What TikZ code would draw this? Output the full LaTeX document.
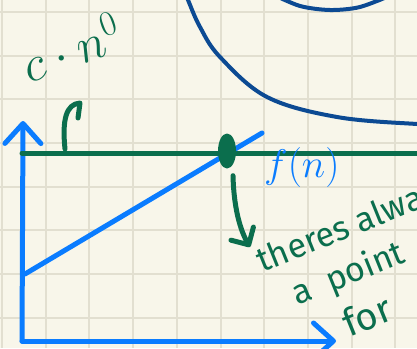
\RequirePackage{fix-cm}
\documentclass[tikz,border=0pt]{standalone}
\usepackage{fontspec}
\setmainfont{Fira Sans}
\usetikzlibrary{arrows.meta,positioning,shapes.geometric}
\definecolor{papel}{HTML}{F8F6EA}
\definecolor{grade}{HTML}{E2DFD0}
\definecolor{verdeCaneta}{HTML}{0B6E4D}
\definecolor{azulCaneta}{HTML}{0A7CFF}
\definecolor{azulEscuro}{HTML}{0C4A93}
\tikzset{
  traco/.style={line width=5pt, line cap=round, line join=round},
  eixo/.style={traco, azulCaneta, -{Straight Barb[length=20pt, width=36pt, round]}},
  seta/.style={traco, verdeCaneta, -{Straight Barb[length=13pt, width=26pt, round]}},
  linhagrade/.style={grade, line width=2pt},
  anotacao/.style={verdeCaneta, anchor=base west, rotate=22, inner sep=0pt,
                   font=\fontsize{34}{34}\selectfont},
}

\begin{document}
\begin{tikzpicture}[x=1pt, y=-1pt]
  \fill[papel] (0,0) rectangle (417,348);
  \useasboundingbox (0,0) rectangle (417,348);
  \clip (0,0) rectangle (417,348);
  % papel quadriculado
  \foreach \i in {0,...,9} \draw[linhagrade] ({2+43.7*\i},0) -- ++(0,348);
  \foreach \j in {0,...,7} \draw[linhagrade] (0,{12+43.65*\j}) -- ++(417,0);

  % circulos no topo
  \draw[azulEscuro, line width=4pt] plot[smooth, tension=0.6] coordinates
    {(184,-10) (188,0) (200,27) (220,57) (267,97) (337,117) (417,124) (440,124)};
  \draw[azulEscuro, line width=4pt] plot[smooth] coordinates
    {(272,-6) (300,6) (330,10) (360,7) (394,-6)};

  % eixos e retas
  \coordinate (origem) at (22,341);
  \coordinate (topoY) at (23,121);
  \coordinate (fimX) at (336,341);
  \draw[eixo] (origem) -- (topoY);
  \draw[eixo] (origem) -- (fimX);
  \coordinate (nivelA) at (22,153);
  \coordinate (nivelB) at (430,153);
  \draw[traco, verdeCaneta] (nivelA) -- (nivelB);
  \coordinate (retaA) at (25,274);
  \coordinate (retaB) at (262,133);
  \draw[traco, azulCaneta] (retaA) -- (retaB);

  \node[ellipse, fill=verdeCaneta, minimum width=18pt, minimum height=35pt, inner sep=0pt] (ponto) at (227,151) {};
  \node[azulCaneta, anchor=base west, inner sep=0pt, font=\fontsize{40}{40}\selectfont] (fn) at (264,177) {$f(n)$};
  \node[anotacao, rotate=-2, font=\fontsize{50}{50}\selectfont] (cte) at (29,84) {$c\cdot n^{0}$};

  % setas verdes
  \coordinate (marca) at (65,149);
  \coordinate (gancho) at (80,103);
  \coordinate (ganchoFim) at (78,118);
  \draw[traco, verdeCaneta] (marca) .. controls (62,120) and (66,104) .. (gancho) -- (ganchoFim);
  \coordinate (alvo) at (250,247);
  \draw[seta] ([shift={(6,7)}]ponto.south) .. controls (234,215) and (243,235) .. (alvo);

  \node[anotacao] (frase1) at (262,273) {theres always};
  \node[anotacao] (frase2) at (297,306) {a\ \ point};
  \node[anotacao, font=\fontsize{38}{38}\selectfont] (frase3) at (349,338) {for};
\end{tikzpicture}
\end{document}
